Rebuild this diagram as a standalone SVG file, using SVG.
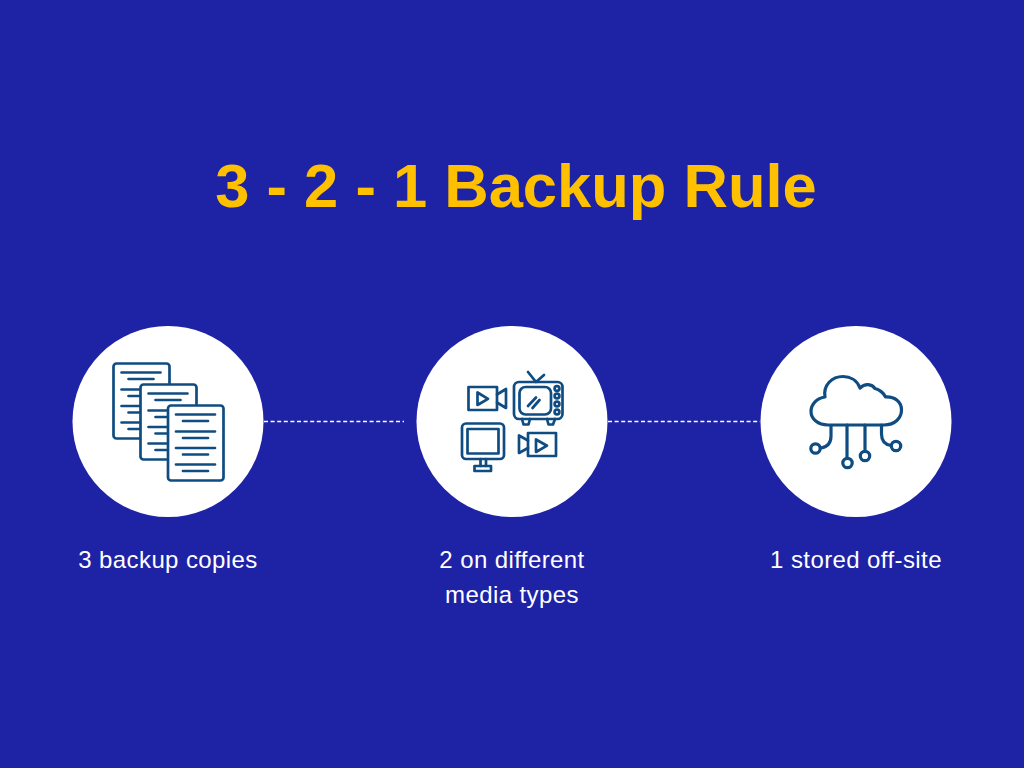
<svg xmlns="http://www.w3.org/2000/svg" width="1024" height="768" viewBox="0 0 1024 768">
<style>
.disc{fill:#fff}
.i{fill:none;stroke:#0f4c81;stroke-width:2.7;stroke-linejoin:round;stroke-linecap:round}
.p{fill:#fff}
.c{stroke:#fff;stroke-width:1.4;stroke-dasharray:4 2.6;fill:none}
.l{font-family:"Liberation Sans",Arial,sans-serif;font-size:24px;letter-spacing:.4px;fill:#fff;text-anchor:middle}
.t{font-family:"Liberation Sans",Arial,sans-serif;font-size:61.500px;font-weight:700;fill:#ffc000;text-anchor:middle}
</style>
<defs>
<g id="lines">
<path d="M8 9H47M15 15.500H40M8 26H47M15 32.500H40M8 42.500H47M15 49H40M8 59H47M15 65.500H40"/>
</g>
</defs>
<rect width="1024" height="768" fill="#1e22a5"/>
<text id="title" class="t" x="516" y="207">3 - 2 - 1 Backup Rule</text>
<g id="connectors">
<path class="c" d="M264 421.500H404"/>
<path class="c" d="M608 421.500H760"/>
</g>
<g id="node-copies">
<circle class="disc" cx="168" cy="421.500" r="95.500"/>
<g class="i">
<rect class="p" x="113.500" y="363.500" width="56" height="75" rx="3"/><use href="#lines" x="113.500" y="363.500"/>
<rect class="p" x="140.500" y="384.500" width="56" height="75" rx="3"/><use href="#lines" x="140.500" y="384.500"/>
<rect class="p" x="168" y="405.500" width="55.500" height="75" rx="3"/><use href="#lines" x="168" y="405.500"/>
</g>
<text class="l" x="168" y="568">3 backup copies</text>
</g>
<g id="node-media">
<circle class="disc" cx="512" cy="421.500" r="95.500"/>
<g class="i">
<rect x="468.500" y="387" width="28.500" height="23"/>
<path d="M497 394.500L506 389V408L497 402.500M477.500 392.500V405L488 398.800Z"/>
<rect x="514" y="382" width="48.500" height="37" rx="5"/>
<rect x="519.500" y="387" width="31.500" height="27.500" rx="6"/>
<path d="M528 372L536 382L544 375M528 406L536 397.500M532.500 408L539.500 400M522 419L523.500 424.500H528.500L530 419M547 419L548.500 424.500H553L555 419"/>
<circle cx="557" cy="388.500" r="2.400"/><circle cx="557" cy="396" r="2.400"/><circle cx="557" cy="404" r="2.400"/><circle cx="557" cy="412" r="2.400"/>
<rect x="462" y="423.500" width="42" height="35.500" rx="4"/>
<rect x="467.500" y="429" width="31" height="24.500"/>
<path d="M480.500 459V466M486 459V466"/>
<rect x="474.500" y="466" width="16.500" height="5"/>
<rect x="528" y="433" width="28" height="23"/>
<path d="M528 440.500L519 435.500V453L528 448M536 439.500V452L547 445.700Z"/>
</g>
<text class="l" x="512" y="568">2 on different</text>
<text class="l" x="512" y="603">media types</text>
</g>
<g id="node-offsite">
<circle class="disc" cx="856" cy="421.500" r="95.500"/>
<g class="i" style="stroke-width:3.200">
<path d="M828 425H884C895 425 901.500 418 901.500 410C901.500 402 895 396.500 885.500 397C884 393 879 389.500 875 388.500C872 384 865 383 860 388C857 380 850 376.500 843 376.500C832 376.500 823 385 825 397C817 398 811 404 811 411.500C811 419 818 425 828 425Z"/>
<path d="M831 426V436C831 443 827 447 821 448M847 425V458M865 425V451M881.500 425V434C881.500 441 885 444.500 891 445.500"/>
<circle cx="815.500" cy="448.500" r="4.700"/><circle cx="847.500" cy="463" r="4.700"/><circle cx="865" cy="456" r="4.700"/><circle cx="896" cy="446" r="4.700"/>
</g>
<text class="l" x="856" y="568">1 stored off-site</text>
</g>
</svg>
